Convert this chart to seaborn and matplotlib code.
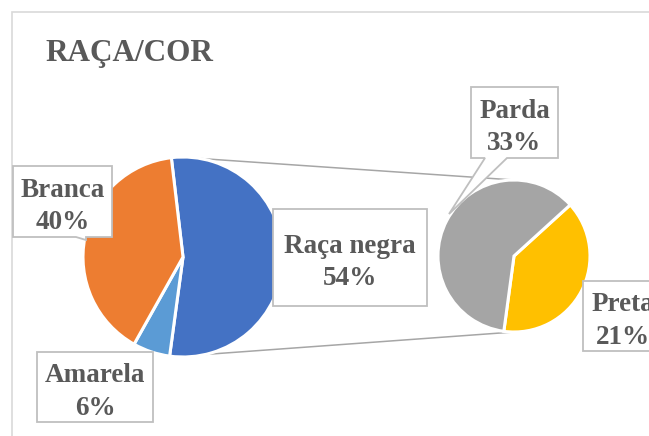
import matplotlib
matplotlib.use("Agg")
import matplotlib.pyplot as plt
from matplotlib.patches import Rectangle, Polygon
import seaborn as sns
import numpy as np

# ---- data ----
main_labels = ["Raça negra", "Amarela", "Branca"]
main_values = [54, 6, 40]
sub_labels = ["Preta", "Parda"]
sub_values = [21, 33]
title = "RAÇA/COR"

sns.set_theme(style="white")
plt.rcParams["font.family"] = ["Liberation Serif", "DejaVu Serif"]

W, H = 649, 436
fig = plt.figure(figsize=(W / 100, H / 100), dpi=100)
ax = fig.add_axes([0, 0, 1, 1])
ax.set_xlim(0, W)
ax.set_ylim(0, H)
ax.set_aspect("equal")
ax.axis("off")

def Y(y):  # image-row to data-y
    return H - y

main_colors = ["#4472C4", "#5B9BD5", "#ED7D31"]
sub_colors = ["#FFC000", "#A5A5A5"]

c1, r1 = (183, Y(257)), 100
c2, r2 = (514, Y(256)), 76

# connector lines (drawn first, under pies)
line_col = "#A6A6A6"
for ang, end in [(80, (c2[0], c2[1] + r2)), (-77, (c2[0], c2[1] - r2))]:
    a = np.deg2rad(ang)
    start = (c1[0] + r1 * np.cos(a), c1[1] + r1 * np.sin(a))
    ax.plot([start[0], end[0]], [start[1], end[1]], color=line_col, lw=1.1, zorder=1)

# chart frame
ax.add_patch(Rectangle((12, -10), W, Y(12) + 10, fill=False, ec="#D9D9D9", lw=1.2, zorder=0))

first_start = 90 + 6.7
ax.pie(main_values, colors=main_colors, startangle=first_start, counterclock=False,
       center=c1, radius=r1, frame=True,
       wedgeprops=dict(edgecolor="white", linewidth=2.2, zorder=2))
ax.pie(sub_values, colors=sub_colors, startangle=42.3, counterclock=False,
       center=c2, radius=r2, frame=True,
       wedgeprops=dict(edgecolor="white", linewidth=2.2, zorder=2))
ax.set_xlim(0, W)
ax.set_ylim(0, H)
ax.axis("off")

txt_col = "#595959"
box_col = "#BFBFBF"
fs = 19.5

def callout(x0, y0, x1, y1, pointer=None):
    # box in image coordinates, optional pointer (base_x0, base_x1, tip_x, tip_y) from bottom edge
    pts = [(x0, y0), (x1, y0), (x1, y1)]
    if pointer is not None:
        bx0, bx1, tx, ty = pointer
        pts += [(bx1, y1), (tx, ty), (bx0, y1)]
    pts += [(x0, y1)]
    pts = [(px, Y(py)) for px, py in pts]
    ax.add_patch(Polygon(pts, closed=True, fc="white", ec=box_col, lw=1.3, zorder=5))

total = sum(main_values)
labels_main = {
    "Raça negra": (273, 209, 427, 306, None),
    "Amarela": (37, 352, 153, 422, None),
    "Branca": (13, 166, 112, 237, (76, 86, 86, 240)),
}
for lab, val in zip(main_labels, main_values):
    x0, y0, x1, y1, ptr = labels_main[lab]
    callout(x0, y0, x1, y1, ptr)
    ax.text((x0 + x1) / 2, Y((y0 + y1) / 2 + 5), f"{lab}\n{round(100 * val / total)}%",
            ha="center", va="center", fontsize=fs, fontweight="bold", color=txt_col,
            linespacing=1.4, zorder=6)

labels_sub = {
    "Parda": (471, 87, 558, 158, (485, 507, 449, 214)),
    "Preta": (583, 281, 662, 351, None),
}
for lab, val in zip(sub_labels, sub_values):
    x0, y0, x1, y1, ptr = labels_sub[lab]
    callout(x0, y0, x1, y1, ptr)
    ax.text((x0 + x1) / 2, Y((y0 + y1) / 2 + 5), f"{lab}\n{round(100 * val / total)}%",
            ha="center", va="center", fontsize=fs, fontweight="bold", color=txt_col,
            linespacing=1.4, zorder=6)

ax.text(45, Y(54), title, ha="left", va="center", fontsize=22.5, fontweight="bold",
        color=txt_col, zorder=6)

fig.savefig("out.png", dpi=100)
